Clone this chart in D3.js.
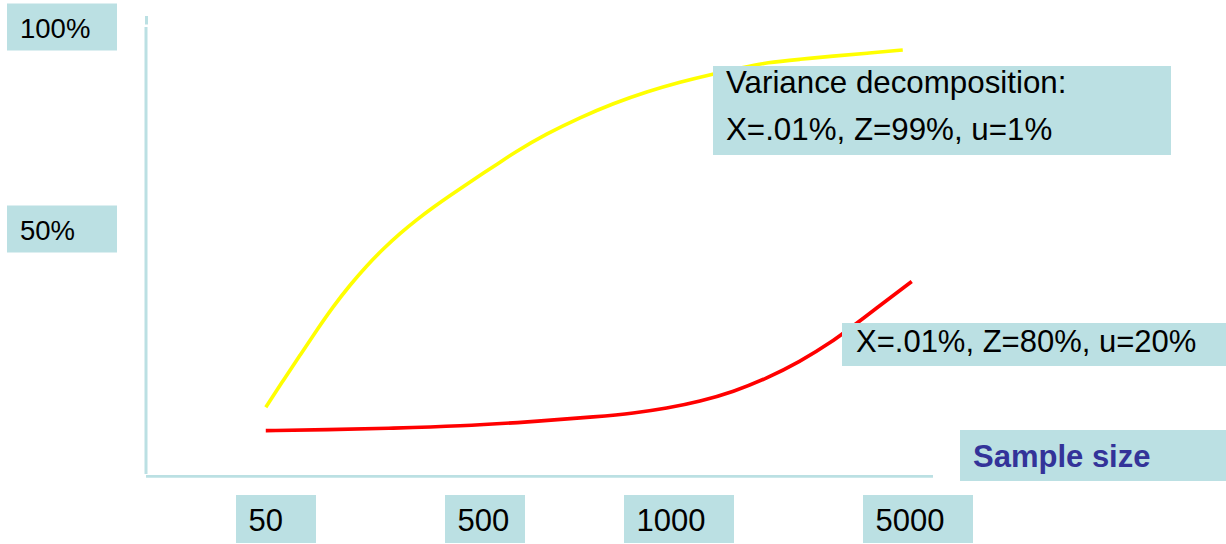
<!DOCTYPE html>
<html>
<head>
<meta charset="utf-8">
<script src="https://cdn.jsdelivr.net/npm/d3@7"></script>
<style>
  html, body { margin: 0; padding: 0; background: #ffffff; }
  svg { display: block; }
  text { font-family: "Liberation Sans", Arial, Helvetica, sans-serif; }
</style>
</head>
<body>
<svg id="chart" width="1226" height="544"></svg>
<script>
// Sample sizes shown on the horizontal axis
const sampleTicks = [50, 500, 1000, 5000];
// Share of variance labels on the vertical axis (percent)
const pctTicks = [100, 50];

// Upper curve: X=.01%, Z=99%, u=1%
const yellowN = [28, 66, 102, 138, 173, 209, 245, 281, 317, 353, 389, 425, 461, 496,
                 537, 573, 659, 745, 831, 917, 1017, 1574, 2071, 2468, 3025, 3578, 4142, 4745];
const yellowV = [5.9, 12.6, 18.8, 25.0, 30.8, 36.1, 40.9, 45.1, 48.9, 52.3, 55.4, 58.3, 61.1, 63.8,
                 66.4, 68.8, 73.6, 77.6, 81.1, 84.0, 86.4, 88.4, 90.0, 91.2, 92.0, 92.8, 93.5, 94.3];

// Lower curve: X=.01%, Z=80%, u=20%
const redN = [28, 159, 303, 446, 607, 796, 882, 968, 1352, 1909, 2468, 3025, 3528, 4030, 4895];
const redV = [0.1, 0.3, 0.7, 1.2, 2.2, 3.6, 4.4, 5.6, 7.3, 9.7, 13.0, 17.2, 21.7, 27.3, 37.0];

const boxFill = "#bbe0e3";

const svg = d3.select("#chart");

// Piecewise-linear sample-size axis, linear percent axis
const x = d3.scaleLinear().domain(sampleTicks).range([276, 485, 679, 918]);
const y = d3.scaleLinear().domain([0, 100]).range([431, 27]);

// Axis lines
const axes = svg.append("g").attr("stroke", boxFill).attr("fill", "none");
axes.append("line").attr("x1", 146.5).attr("x2", 146.5).attr("y1", 16).attr("y2", 24.5)
  .attr("stroke-width", 3);
axes.append("line").attr("x1", 146).attr("x2", 146).attr("y1", 27).attr("y2", 474)
  .attr("stroke-width", 3);
axes.append("line").attr("x1", 146).attr("x2", 933).attr("y1", 476.3).attr("y2", 476.3)
  .attr("stroke-width", 2.7);

// Curves
const line = d3.line()
  .x(d => x(d[0]))
  .y(d => y(d[1]))
  .curve(d3.curveBasis);

const series = [
  { n: yellowN, v: yellowV, color: "#ffff00" },
  { n: redN, v: redV, color: "#ff0000" }
];

svg.append("g").selectAll("path")
  .data(series)
  .join("path")
  .attr("d", s => line(s.n.map((n, i) => [n, s.v[i]])))
  .attr("fill", "none")
  .attr("stroke", s => s.color)
  .attr("stroke-width", 3.6)
  .attr("stroke-linecap", "butt");

// Boxed label helper
function labelBox(g, bx, by, bw, bh, lines, opts = {}) {
  const grp = g.append("g");
  grp.append("rect").attr("x", bx).attr("y", by).attr("width", bw).attr("height", bh)
    .attr("fill", boxFill);
  lines.forEach((t, i) => {
    grp.append("text")
      .attr("x", bx + (opts.padX ?? 13))
      .attr("y", by + (opts.baseline ?? 34) + i * (opts.lineGap ?? 47))
      .attr("font-size", opts.size ?? 28)
      .attr("font-weight", opts.weight ?? "normal")
      .attr("fill", opts.color ?? "#000000")
      .text(t);
  });
  return grp;
}

const labels = svg.append("g");

// Vertical axis labels
pctTicks.forEach(p => {
  labelBox(labels, 7, y(p) - 23.5, 110, 47, [p + "%"], { padX: 13, baseline: 34.5, size: 27.5 });
});

// Horizontal axis labels
sampleTicks.forEach(n => {
  const label = String(n);
  const w = label.length <= 3 ? 80 : 110;
  labelBox(labels, x(n) - w / 2, 495, w, 48, [label], { padX: 12.5, baseline: 36, size: 31 });
});

// Axis title
labelBox(labels, 960, 430, 266, 51, ["Sample size"],
  { padX: 13, baseline: 36.5, size: 31, weight: "bold", color: "#333399" });

// Curve annotations
labelBox(labels, 713, 66, 458, 89, ["Variance decomposition:", "X=.01%, Z=99%, u=1%"],
  { padX: 13, baseline: 27, lineGap: 47, size: 31.3 });
labelBox(labels, 842, 323, 384, 43, ["X=.01%, Z=80%, u=20%"],
  { padX: 14, baseline: 28.5, size: 31 });
</script>
</body>
</html>
